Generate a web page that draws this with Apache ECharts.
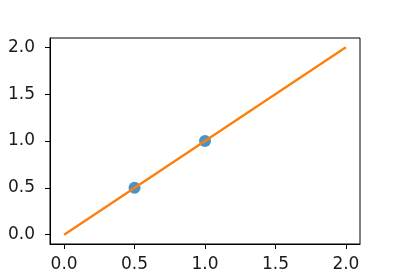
<!DOCTYPE html>
<html>
<head>
<meta charset="utf-8">
<script src="https://cdn.jsdelivr.net/npm/echarts@6/dist/echarts.min.js"></script>
<style>html,body{margin:0;padding:0;background:#fff}#c{width:400px;height:280px}</style>
</head>
<body>
<div id="c"></div>
<script>
const scatterX = [0.5, 1.0];
const scatterY = [0.5, 1.0];
const lineX = [0.0, 2.0];
const lineY = [0.0, 2.0];
const xTicks = [0.0, 0.5, 1.0, 1.5, 2.0];
const yTicks = [0.0, 0.5, 1.0, 1.5, 2.0];

const chart = echarts.init(document.getElementById('c'), null, {renderer: 'canvas'});
const font = 'DejaVu Sans';
function axis(ticks, margin) {
  return {
    type: 'value', min: -0.1, max: 2.1,
    splitLine: {show: false},
    axisLine: {show: true, onZero: false, lineStyle: {color: '#000', width: 1}},
    axisTick: {show: true, length: 5, inside: false, customValues: ticks, lineStyle: {color: '#000', width: 1}},
    axisLabel: {show: true, customValues: ticks, color: '#1a1a1a', fontFamily: font, fontSize: 17, margin: margin,
      formatter: v => Number(v).toFixed(1)}
  };
}
chart.setOption({
  animation: false,
  grid: {left: 50, right: 40, top: 38, bottom: 36, show: true, borderColor: '#000', borderWidth: 1, backgroundColor: 'transparent'},
  xAxis: axis(xTicks, 12),
  yAxis: axis(yTicks, 15),
  series: [
    {type: 'scatter', data: scatterX.map((x, i) => [x, scatterY[i]]), symbol: 'circle', symbolSize: 12,
     itemStyle: {color: '#1f77b4'}, z: 2},
    {type: 'line', data: lineX.map((x, i) => [x, lineY[i]]), showSymbol: false, symbol: 'none',
     lineStyle: {color: '#ff7f0e', width: 2.4}, z: 3}
  ]
});
</script>
</body>
</html>
